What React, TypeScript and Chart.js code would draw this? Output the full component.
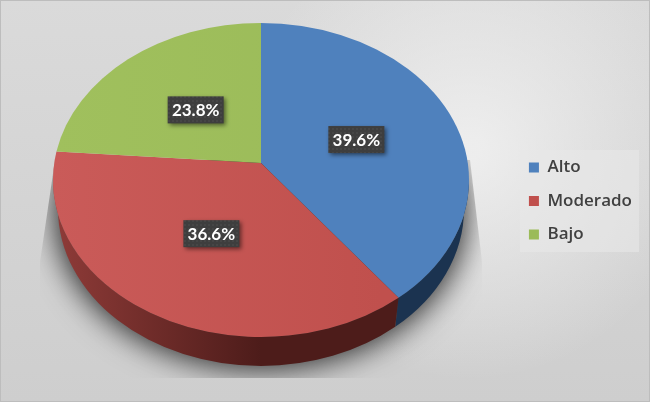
import React, { useEffect, useRef } from "react";
import { Chart, registerables } from "chart.js";

Chart.register(...registerables);

const categories = ["Alto", "Moderado", "Bajo"];
const values = [39.6, 36.6, 23.8];
const topColors = ["#4f81bd", "#c0504d", "#9bbb59"];
const topLight = ["#4f81bd", "#ca5b59", "#a0c05d"];
const wallLight = ["#1f3b5c", "#8f3b38", "#5c7034"];
const wallDark = ["#1b3350", "#4d1c1a", "#4d5e2b"];

const CX = 261, CY = 180, RX = 208, RY = 157;
const DEPTH = 29, WALL_RX = 203;
const P = -0.108;
const FONT = "Lato, 'Open Sans', sans-serif";
const LEGEND_FONT = "'Open Sans', sans-serif";

function project(theta: number, f = 1) {
  const u = Math.sin(theta) * f;
  const v = -Math.cos(theta) * f;
  const d = 1 + P * v;
  return { u: (u * Math.sqrt(1 - P * P)) / d, v: (v + P) / d };
}
const phiOf = (theta: number) => {
  const q = project(theta);
  return Math.atan2(q.v, q.u);
};

function dotPattern(ctx: CanvasRenderingContext2D) {
  const c = document.createElement("canvas");
  c.width = 4;
  c.height = 4;
  const p = c.getContext("2d")!;
  p.fillStyle = "#3e3e3e";
  p.fillRect(0, 0, 4, 4);
  p.fillStyle = "#464646";
  p.fillRect(0, 0, 2, 2);
  return ctx.createPattern(c, "repeat")!;
}

const pie3d = {
  id: "pie3d",
  beforeDraw(chart: any) {
    const { ctx, width, height } = chart;
    ctx.save();
    const bg = ctx.createLinearGradient(0, 0, 0, height);
    bg.addColorStop(0, "#dadada");
    bg.addColorStop(1, "#cecece");
    ctx.fillStyle = bg;
    ctx.fillRect(0, 0, width, height);
    const glow = ctx.createRadialGradient(470, 150, 10, 470, 150, 230);
    glow.addColorStop(0, "rgba(245,245,245,0.75)");
    glow.addColorStop(1, "rgba(245,245,245,0)");
    ctx.fillStyle = glow;
    ctx.fillRect(0, 0, width, height);
    ctx.strokeStyle = "#bdbdbd";
    ctx.strokeRect(0.5, 0.5, width - 1, height - 1);
    // soft cast shadow, clipped to a trapezoid that widens downwards
    ctx.beginPath();
    ctx.moveTo(55, 160);
    ctx.lineTo(40, 262);
    ctx.lineTo(40, 378);
    ctx.lineTo(482, 378);
    ctx.lineTo(482, 262);
    ctx.lineTo(470, 160);
    ctx.closePath();
    ctx.clip();
    ctx.shadowColor = "rgba(0,0,0,0.8)";
    ctx.shadowBlur = 30;
    ctx.shadowOffsetX = 2000;
    ctx.fillStyle = "#000";
    ctx.beginPath();
    ctx.ellipse(CX - 2000, CY + DEPTH + 3, RX - 2, RY, 0, 0, Math.PI * 2);
    ctx.fill();
    ctx.restore();
    // legend panel
    ctx.save();
    ctx.fillStyle = "rgba(232,232,232,0.6)";
    ctx.fillRect(520, 150, 119, 102);
    ctx.restore();
  },
  beforeDatasetDraw(chart: any) {
    const { ctx } = chart;
    const arcs = chart.getDatasetMeta(0).data;
    arcs.forEach((arc: any, i: number) => {
      const a = arc.startAngle + Math.PI / 2;
      const b = arc.endAngle + Math.PI / 2;
      const from = phiOf(a);
      let to = phiOf(b);
      while (to < from) to += Math.PI * 2;
      const s = Math.max(from, 0);
      const e = Math.min(to, Math.PI);
      if (e > s) {
        ctx.save();
        ctx.beginPath();
        ctx.ellipse(CX, CY, RX, RY, 0, s, e);
        ctx.ellipse(CX, CY + DEPTH, WALL_RX, RY, 0, e, s, true);
        ctx.closePath();
        const g = ctx.createLinearGradient(CX - RX, 0, CX, 0);
        g.addColorStop(0, wallLight[i]);
        g.addColorStop(1, wallDark[i]);
        ctx.fillStyle = g;
        ctx.fill();
        ctx.restore();
      }
    });
    arcs.forEach((arc: any, i: number) => {
      const a = arc.startAngle + Math.PI / 2;
      const b = arc.endAngle + Math.PI / 2;
      const qa = project(a);
      const from = phiOf(a);
      let to = phiOf(b);
      while (to <= from) to += Math.PI * 2;
      ctx.save();
      ctx.beginPath();
      ctx.moveTo(CX, CY + RY * P);
      ctx.lineTo(CX + RX * qa.u, CY + RY * qa.v);
      ctx.ellipse(CX, CY, RX, RY, 0, from, to);
      ctx.closePath();
      const g = ctx.createLinearGradient(CX - RX, 0, CX + 120, 0);
      g.addColorStop(0, topLight[i]);
      g.addColorStop(1, topColors[i]);
      ctx.fillStyle = g;
      ctx.fill();
      ctx.restore();
    });
    return false;
  },
  afterDraw(chart: any) {
    const { ctx } = chart;
    const arcs = chart.getDatasetMeta(0).data;
    const pattern = dotPattern(ctx);
    arcs.forEach((arc: any, i: number) => {
      const mid = (arc.startAngle + arc.endAngle) / 2 + Math.PI / 2;
      const q = project(mid, 0.49);
      const x = CX + RX * q.u + 1;
      const y = CY + RY * q.v + 0.5;
      ctx.save();
      ctx.shadowColor = "rgba(0,0,0,0.5)";
      ctx.shadowBlur = 4;
      ctx.shadowOffsetX = 2;
      ctx.shadowOffsetY = 2;
      ctx.fillStyle = pattern;
      ctx.fillRect(x - 28, y - 13.5, 56, 27);
      ctx.restore();
      ctx.save();
      ctx.fillStyle = "#ffffff";
      ctx.font = `bold 17px ${FONT}`;
      ctx.textAlign = "center";
      ctx.textBaseline = "middle";
      ctx.fillText(`${values[i].toFixed(1)}%`, x, y + 1);
      ctx.restore();
    });
  },
};

export default function App() {
  const ref = useRef<HTMLCanvasElement>(null);
  useEffect(() => {
    document.body.style.margin = "0";
    const chart = new Chart(ref.current!, {
      type: "pie",
      data: {
        labels: categories,
        datasets: [{ data: values, backgroundColor: topColors, borderWidth: 0 }],
      },
      options: {
        animation: false,
        responsive: false,
        layout: { padding: { right: 8 } },
        plugins: {
          tooltip: { enabled: false },
          legend: {
            position: "right",
            onClick: () => {},
            labels: {
              boxWidth: 10,
              boxHeight: 10,
              padding: 16.5,
              color: "#404040",
              font: { family: LEGEND_FONT, size: 17, weight: "600" },
            },
          },
        },
      },
      plugins: [pie3d],
    } as any);
    return () => chart.destroy();
  }, []);
  return <canvas ref={ref} width={650} height={402} style={{ display: "block" }} />;
}
